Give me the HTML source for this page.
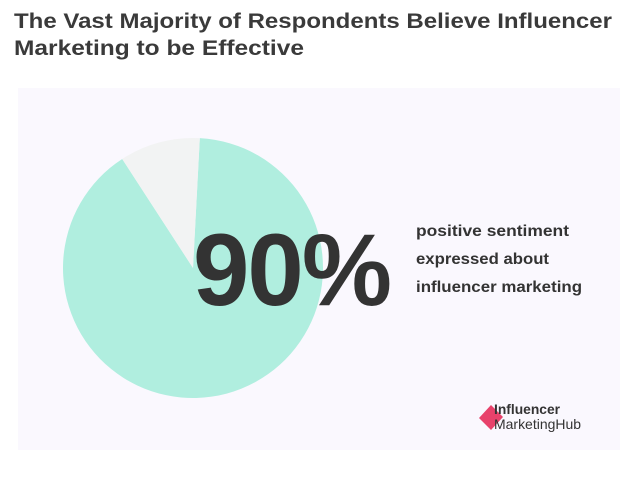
<!DOCTYPE html>
<html><head><meta charset="utf-8"><style>
html,body{margin:0;padding:0;background:#fff;}
svg{display:block;font-family:"Liberation Sans",sans-serif;}
</style></head><body>
<svg width="640" height="485" viewBox="0 0 640 485">
<text x="14" y="28" font-size="21" font-weight="bold" fill="#3a3a3a" textLength="598" lengthAdjust="spacingAndGlyphs">The Vast Majority of Respondents Believe Influencer</text>
<text x="14" y="55" font-size="21" font-weight="bold" fill="#3a3a3a" textLength="290" lengthAdjust="spacingAndGlyphs">Marketing to be Effective</text>
<rect x="18" y="88" width="602" height="362" fill="#faf8fe"/>
<g id="pie"></g>
<text x="193" y="305" font-size="102" font-weight="bold" fill="#333" letter-spacing="-2" textLength="197" lengthAdjust="spacingAndGlyphs">90%</text>
<text x="416" y="236" font-size="16" font-weight="bold" fill="#333" textLength="153" lengthAdjust="spacingAndGlyphs">positive sentiment</text>
<text x="416" y="264" font-size="16" font-weight="bold" fill="#333" textLength="133" lengthAdjust="spacingAndGlyphs">expressed about</text>
<text x="416" y="292" font-size="16" font-weight="bold" fill="#333" textLength="166" lengthAdjust="spacingAndGlyphs">influencer marketing</text>
<g>
<polygon points="479,418 491,405 503,417 491,430" fill="#e8426b"/>
<text x="494" y="414" font-size="14" font-weight="bold" fill="#333" textLength="66" lengthAdjust="spacingAndGlyphs">Influencer</text>
<text x="494" y="429" font-size="14" fill="#333" textLength="87" lengthAdjust="spacingAndGlyphs">MarketingHub</text>
</g>
</svg>
<script>
const categories = ["Positive", "Not positive"];
const values = [90, 10];
const colors = ["#b0eedf", "#f2f3f3"];
const cx = 193, cy = 268, r = 130, startDeg = 3;
const g = document.getElementById('pie');
const total = values.reduce((a,b)=>a+b,0);
let a0 = startDeg;
values.forEach((v,i)=>{
  const a1 = a0 + v/total*360;
  const p = d => [cx + r*Math.sin(d*Math.PI/180), cy - r*Math.cos(d*Math.PI/180)];
  const [x0,y0] = p(a0), [x1,y1] = p(a1);
  const large = (a1-a0) > 180 ? 1 : 0;
  const path = document.createElementNS('http://www.w3.org/2000/svg','path');
  path.setAttribute('d', `M${cx},${cy} L${x0},${y0} A${r},${r} 0 ${large} 1 ${x1},${y1} Z`);
  path.setAttribute('fill', colors[i]);
  
  
  g.appendChild(path);
  a0 = a1;
});
</script>
</body></html>
